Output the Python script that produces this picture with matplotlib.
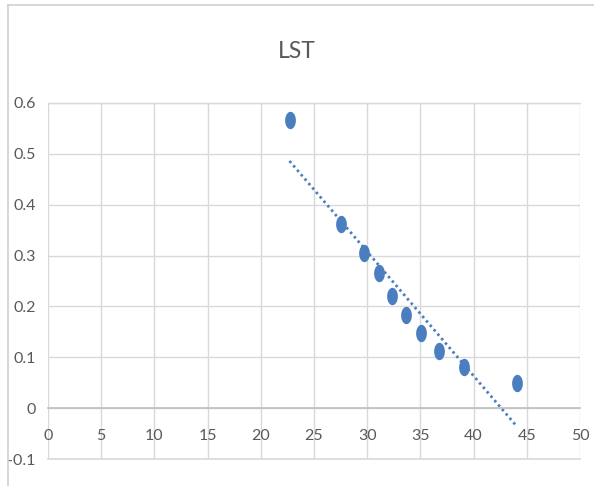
import numpy as np
import matplotlib
matplotlib.use("Agg")
import matplotlib.pyplot as plt
from matplotlib.path import Path

# Data
title = "LST"
x_vals = [22.7, 27.54, 29.67, 31.08, 32.33, 33.62, 35.06, 36.78, 39.13, 44.05]
y_vals = [0.566, 0.363, 0.306, 0.265, 0.221, 0.183, 0.148, 0.113, 0.081, 0.050]
x_ticks = [0, 5, 10, 15, 20, 25, 30, 35, 40, 45, 50]
y_ticks = [-0.1, 0, 0.1, 0.2, 0.3, 0.4, 0.5, 0.6]
y_tick_labels = ["-0.1", "0", "0.1", "0.2", "0.3", "0.4", "0.5", "0.6"]

plt.rcParams['font.family'] = ['Lato', 'DejaVu Sans']
TEXT = '#595959'
GRID = '#d9d9d9'
BLUE = '#4a7ebf'

fig = plt.figure(figsize=(5.94, 4.86), dpi=100)
fig.patch.set_facecolor('white')

# outer chart border (top and left visible)
fig.add_artist(plt.Line2D([8/594, 8/594], [0, 1 - 5/486], transform=fig.transFigure, color='#d0d0d0', lw=1.2))
fig.add_artist(plt.Line2D([8/594, 1], [1 - 5/486, 1 - 5/486], transform=fig.transFigure, color='#d0d0d0', lw=1.2))

ax = fig.add_axes([48/594, 1 - 459/486, (580 - 48)/594, (459 - 103)/486])
ax.set_xlim(0, 50)
ax.set_ylim(-0.1, 0.6)
ax.set_xticks(x_ticks)
ax.set_yticks(y_ticks)
ax.set_yticklabels(y_tick_labels)
ax.grid(True, color=GRID, lw=1)
ax.set_axisbelow(True)
for s in ['top', 'right', 'left']:
    ax.spines[s].set_visible(False)
ax.spines['bottom'].set_position(('data', 0))
ax.spines['bottom'].set_color('#bfbfbf')
ax.spines['bottom'].set_linewidth(1.2)
ax.axhline(-0.1, color=GRID, lw=1.2, zorder=0, clip_on=False)
ax.axhline(0.6, color=GRID, lw=1, zorder=0, clip_on=False)
ax.tick_params(axis='both', length=0, colors=TEXT, labelsize=11.5)
ax.tick_params(axis='x', pad=15)
ax.tick_params(axis='y', pad=9)

# trendline (linear fit)
coef = np.polyfit(x_vals, y_vals, 1)
xt = np.array([min(x_vals), max(x_vals)])
ax.plot(xt, np.polyval(coef, xt), linestyle=(0, (0.9, 1.2)), color=BLUE, lw=2.0, zorder=2)

# ellipse marker (taller than wide)
t = np.linspace(0, 2*np.pi, 60, endpoint=False)
verts = np.column_stack([0.62*np.cos(t), np.sin(t)])
verts = np.vstack([verts, verts[:1]])
codes = [Path.MOVETO] + [Path.LINETO] * (len(verts) - 2) + [Path.CLOSEPOLY]
ell = Path(verts, codes)
ax.plot(x_vals, y_vals, linestyle='none', marker=ell, markersize=12.5,
        color=BLUE, markeredgecolor=BLUE, markeredgewidth=0, zorder=3)

fig.text(297/594, 1 - 52/486, title, ha='center', va='center', fontsize=16.5, color=TEXT)

fig.savefig('out.png', dpi=100)
